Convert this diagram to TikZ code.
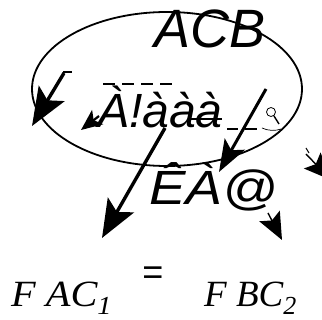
\documentclass[tikz,border=0pt]{standalone}
\usepackage{fontspec}
\setmainfont{Liberation Sans}
\newfontfamily\tms{Liberation Serif}
\usetikzlibrary{arrows.meta}
\tikzset{
  bigarrow/.style={line width=3.4pt, -{Stealth[length=38pt,width=30pt,inset=8pt]}},
  midarrow/.style={line width=3pt, -{Stealth[length=32pt,width=23pt,inset=7pt]}},
  smallarrow/.style={line width=2.2pt, -{Stealth[length=21pt,width=18pt,inset=5pt]}},
  thinarrow/.style={line width=1.4pt, -{Stealth[length=27pt,width=23pt,inset=5pt]}},
  bigtext/.style={font=\fontsize{54}{54}\selectfont\itshape, inner sep=0pt, anchor=base west},
  midtext/.style={font=\fontsize{48}{48}\selectfont\itshape, inner sep=0pt, anchor=base west},
  formula/.style={font=\fontsize{37}{37}\selectfont\tms\itshape, inner sep=0pt, anchor=base west},
  tick/.style={line width=1.4pt}
}
\begin{document}
\begin{tikzpicture}[x=1pt,y=-1pt]
\useasboundingbox (0,0) rectangle (322,320);
\clip (0,0) rectangle (322,320);
% ellipse
\draw[line width=1.8pt] (167,89) ellipse [x radius=135pt, y radius=77pt];
% texts
\node[bigtext] (acb) at (154,48) {ACB};
\node[midtext] (mid) at (97,128) {À!ààà};
\node[midtext, xscale=1.14] (low) at (149,205) {ÊÀ@};
\node[formula, xscale=1.09] (fac) at (11,307) {F AC\raisebox{-8pt}{\fontsize{26}{26}\selectfont 1}};
\node[formula] (fbc) at (204,307) {F BC\raisebox{-8pt}{\fontsize{26}{26}\selectfont 2}};
\node[font=\fontsize{36}{36}\selectfont, inner sep=0pt] (eq) at (153,276) {=};
% small marks
\draw[tick] (63,72) -- (72,72);
\draw[tick, dash pattern=on 12pt off 7pt] (103,84) -- (173,84);
\draw[line width=2pt] (190,119) -- (222,119);
\draw[tick] (227,129) -- (238,129);
\draw[tick] (245,129) -- (257,129);
\draw[line width=0.8pt] (271,112) circle [radius=4.5pt];
\draw[line width=1.4pt] (274,116) -- (279,124);
\draw[line width=0.7pt] (262,128) .. controls (268,131) and (276,131) .. (281,129);
\draw[line width=1pt] (306,148) -- (309,153);
% arrows
\coordinate (a1s) at (64,73);   \coordinate (a1e) at (32,126);
\coordinate (a2s) at (99,116);  \coordinate (a2e) at (81,130);
\coordinate (a3s) at (165,128); \coordinate (a3e) at (102,238);
\coordinate (a4s) at (266,89);  \coordinate (a4e) at (219,172);
\coordinate (a5s) at (268,213); \coordinate (a5e) at (282,240);
\coordinate (a6s) at (306,154); \coordinate (a6e) at (331,180);
\draw[bigarrow] (a1s) -- (a1e);
\draw[smallarrow] (a2s) -- (a2e);
\draw[bigarrow] (a3s) -- (a3e);
\draw[midarrow] (a4s) -- (a4e);
\draw[thinarrow] (a5s) -- (a5e);
\draw[thinarrow] (a6s) -- (a6e);
\end{tikzpicture}
\end{document}
